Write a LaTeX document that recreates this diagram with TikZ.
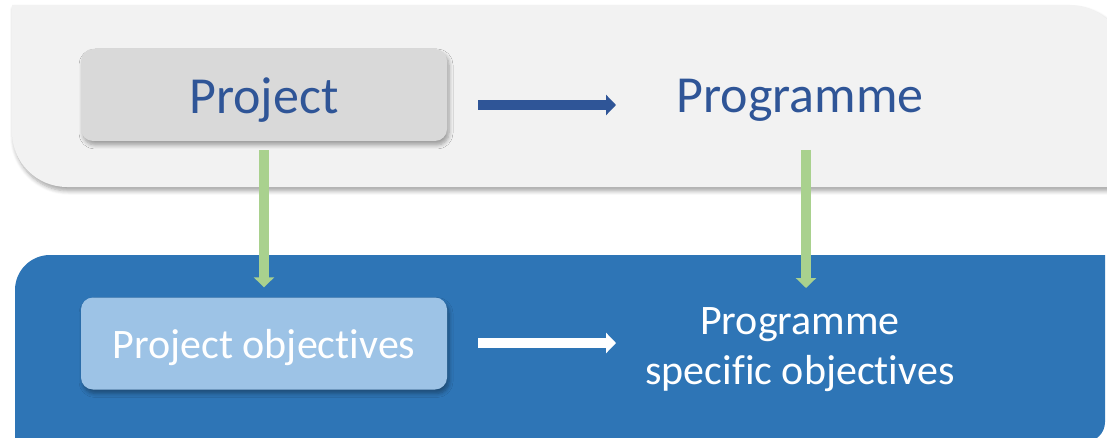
\documentclass[tikz,border=0pt]{standalone}
\usepackage{fontspec}
\setmainfont{Carlito}[RawFeature=-liga]
\usetikzlibrary{arrows.meta,shadows.blur}
\definecolor{bandgray}{HTML}{F2F2F2}
\definecolor{boxgray}{HTML}{D9D9D9}
\definecolor{txtblue}{HTML}{2F5597}
\definecolor{bandblue}{HTML}{2E75B6}
\definecolor{boxblue}{HTML}{9DC3E6}
\definecolor{arrgreen}{HTML}{A9D18E}
\tikzset{
  shad/.style={blur shadow={shadow xshift=2pt,shadow yshift=-4pt,shadow blur steps=6,shadow blur radius=4pt,shadow opacity=35}},
  box/.style={rounded corners=12pt,minimum width=366pt,minimum height=92pt,inner sep=0pt,shad},
  bigtxt/.style={font=\fontsize{52}{62}\selectfont,text=txtblue,inner sep=0pt},
  smalltxt/.style={font=\fontsize{42}{50}\selectfont,text=white,inner sep=0pt,align=center},
  fatarrow/.style={line width=10pt,-{Triangle[length=10pt,width=20pt]}},
}
\begin{document}
\begin{tikzpicture}[x=1pt,y=1pt]
\useasboundingbox (0,0) rectangle (1107,437);
% top band
\path[fill=bandgray,shad] (12,432) -- (1070,432) arc[start angle=90,end angle=0,radius=55]
  -- (1125,250) -- (67,250) arc[start angle=270,end angle=180,radius=55] -- cycle;
% bottom band
\path[fill=bandblue] (15,-5) -- (15,147) arc[start angle=180,end angle=90,radius=35]
  -- (1105,182) -- (1105,15) arc[start angle=0,end angle=-90,radius=20] -- cycle;
% nodes
\node[box,fill=boxgray] (proj) at (264,342) {};
\node[bigtxt] (projt) at (264,337) {Project};
\node[bigtxt] (prog) at (800,337) {Programme};
\node[box,fill=boxblue] (obj) at (264,93.5) {};
\node[smalltxt] (objt) at (264,89.5) {Project objectives};
\node[smalltxt] (pso) at (800,87.5) {Programme\\specific objectives};
% connectors
\coordinate (a1) at (478,332);
\coordinate (a2) at (616,332);
\coordinate (b1) at (478,94);
\coordinate (b2) at (616,94);
\coordinate (g1) at (806,287);
\coordinate (g2) at (806,149);
\draw[fatarrow,txtblue] (a1) -- (a2);
\draw[fatarrow,white] (b1) -- (b2);
\draw[fatarrow,arrgreen,shorten <=9pt,shorten >=10pt] (proj.south) -- (obj.north);
\draw[fatarrow,arrgreen] (g1) -- (g2);
\end{tikzpicture}
\end{document}
